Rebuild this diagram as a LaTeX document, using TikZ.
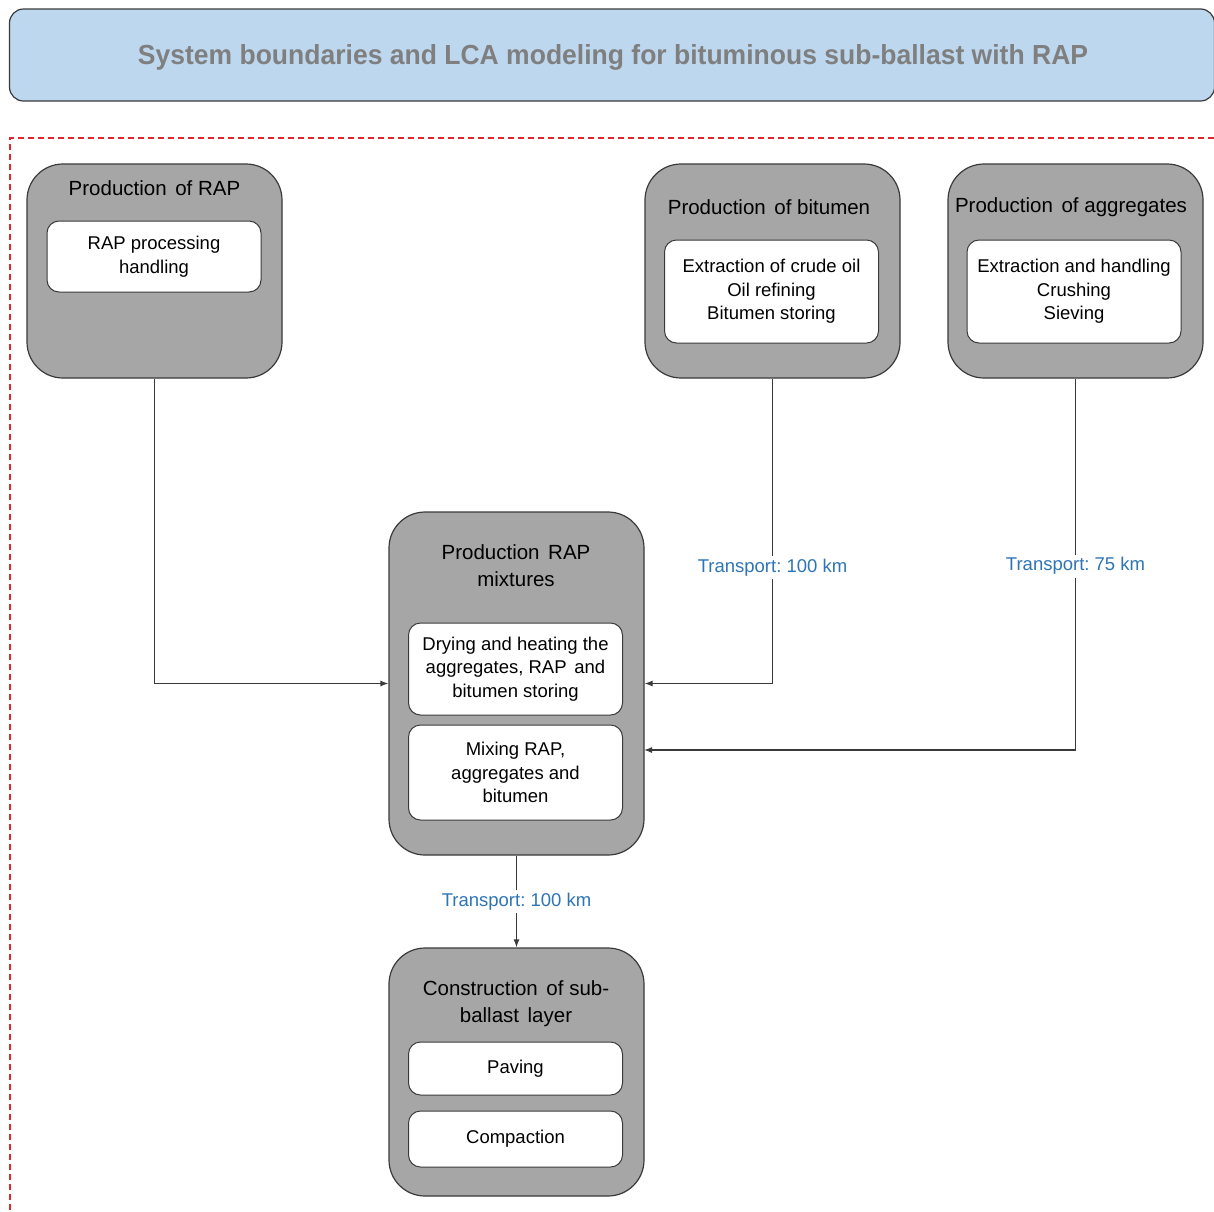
\documentclass[tikz,border=0pt]{standalone}
\usepackage{fontspec}
\setmainfont{Liberation Sans}
\usetikzlibrary{arrows.meta,positioning,calc}
\definecolor{boxgrey}{HTML}{A6A6A6}
\definecolor{edgedark}{HTML}{3A3A3A}
\definecolor{titlefill}{HTML}{BDD7EE}
\definecolor{titletext}{HTML}{7F7F7F}
\definecolor{bndred}{HTML}{E0262A}
\definecolor{lblblue}{HTML}{2E75B6}
\newcommand{\wsp}{\hspace{0.42em}}
\tikzset{
  outerbox/.style={draw=edgedark, line width=1.2pt, fill=boxgrey, rounded corners=36pt,
    minimum width=255pt, inner sep=0pt},
  innerbox/.style={draw=edgedark, line width=1pt, fill=white, rounded corners=12pt,
    minimum width=214pt, inner sep=0pt, align=center,
    font=\fontsize{18.5}{23.5}\selectfont},
  boxtitle/.style={align=center, inner sep=0pt, font=\fontsize{20.5}{27}\selectfont},
  conn/.style={draw=edgedark, line width=1.2pt},
  arr/.style={conn, -{Latex[length=8pt,width=6pt]}},
  lbl/.style={fill=white, text=lblblue, inner sep=3pt, font=\fontsize{18.5}{22}\selectfont},
}
\begin{document}
\frenchspacing
\begin{tikzpicture}[x=1pt,y=-1pt]
\useasboundingbox (0,0) rectangle (1214,1211);
% title
\node[draw=edgedark, line width=1.2pt, fill=titlefill, rounded corners=14pt,
  minimum width=1205pt, minimum height=92pt, inner sep=0pt] (title) at (612,55) {};
\node[text=titletext, inner sep=0pt] (titletxt) at (613,57)
  {\resizebox{950pt}{20pt}{\bfseries System boundaries and LCA modeling for bituminous sub-ballast with RAP}};
% system boundary
\coordinate (bA) at (1214,138);
\coordinate (bB) at (10,138);
\coordinate (bC) at (10,1211);
\draw[bndred, line width=1.5pt, dash pattern=on 6pt off 4pt] (bA) -- (bB) -- (bC);

% Production of RAP
\node[outerbox, minimum height=214pt] (rap) at (154.5,271) {};
\node[boxtitle] (raptitle) at (154.5,188) {Production\wsp of RAP};
\node[innerbox, minimum height=71pt] (rapin) at (154,256.5) {RAP processing\\handling};

% Production of bitumen
\node[outerbox, minimum height=214pt] (bit) at (772.5,271) {};
\node[boxtitle] (bittitle) at (769,207) {Production\wsp of bitumen};
\node[innerbox, minimum height=103pt] (bitin) at (771.5,291.5) {Extraction of crude oil\\Oil refining\\Bitumen storing};

% Production of aggregates
\node[outerbox, minimum height=214pt] (agg) at (1075.5,271) {};
\node[boxtitle] (aggtitle) at (1071,207) {Production\wsp of aggregates};
\node[innerbox, minimum height=103pt] (aggin) at (1074,291.5) {Extraction and handling\\Crushing\\Sieving};

% Production RAP mixtures
\node[outerbox, minimum height=343pt] (mix) at (516.5,683.5) {};
\node[boxtitle] (mixtitle) at (516,566) {Production\wsp RAP\\mixtures};
\node[innerbox, minimum height=92pt] (mixin1) at (515.5,669) {Drying and heating the\\aggregates, RAP\wsp and\\bitumen storing};
\node[innerbox, minimum height=95pt] (mixin2) at (515.5,772.5) {Mixing RAP,\\aggregates and\\bitumen};

% Construction of sub-ballast layer
\node[outerbox, minimum height=248pt] (con) at (516.5,1072) {};
\node[boxtitle] (contitle) at (516,1004) {Construction\wsp of sub-\\ballast\wsp layer};
\node[innerbox, minimum height=53pt] (conin1) at (515.5,1068.5) {Paving};
\node[innerbox, minimum height=56pt] (conin2) at (515.5,1139) {Compaction};

% connectors
\draw[arr] (rap.south) |- (mix.west);
\draw[arr] (bit.south) -- node[lbl, pos=0.62] (lbl1) {Transport: 100 km} (bit.south |- mix.east) -- (mix.east);
\coordinate (mixin) at (644,750);
\draw[arr] (agg.south) -- node[lbl, pos=0.505] (lbl2) {Transport: 75 km} (agg.south |- mixin) -- (mixin);
\draw[arr] (mix.south) -- node[lbl, pos=0.5] (lbl3) {Transport: 100 km} (con.north);
\end{tikzpicture}
\end{document}
